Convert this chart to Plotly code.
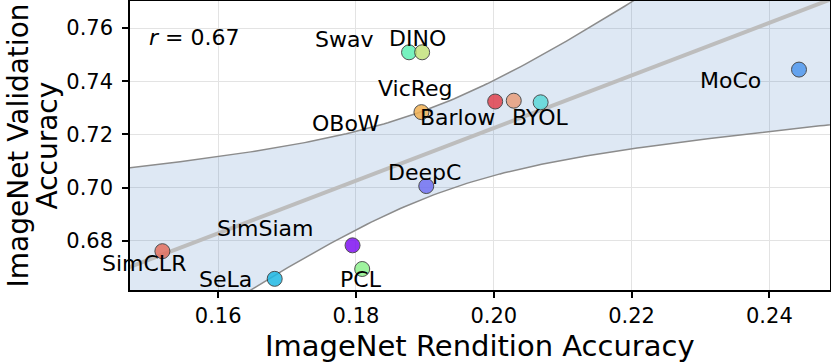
import numpy as np
import plotly.graph_objects as go

# ImageNet rendition accuracy vs validation accuracy per SSL method
methods = ["Swav", "DINO", "VicReg", "Barlow", "BYOL", "OBoW", "MoCo",
           "DeepC", "SimCLR", "SeLa", "SimSiam", "PCL"]
rendition = [0.1877, 0.1896, 0.1895, 0.2002, 0.2029, 0.2068, 0.2443,
             0.1902, 0.1519, 0.1682, 0.1795, 0.1809]
validation = [0.7509, 0.7509, 0.7284, 0.7324, 0.7327, 0.7321, 0.7444,
              0.7006, 0.6761, 0.6657, 0.6783, 0.6694]
colors = ["#5ff0b4", "#c4e27c", "#f0b052", "#e2434f", "#e89e7c", "#5cd8d8",
          "#4f97ee", "#7272f2", "#e37060", "#1fb9e4", "#7f12f2", "#8ef28e"]

# label placement (data coords), set by hand like adjustText would
label_x = {"Swav": 0.1783, "DINO": 0.1890, "VicReg": 0.1887, "OBoW": 0.1786,
           "Barlow": 0.1947, "BYOL": 0.2067, "MoCo": 0.2343, "DeepC": 0.1899,
           "SimSiam": 0.1668, "SimCLR": 0.1492, "SeLa": 0.1611, "PCL": 0.1807}
label_y = {"Swav": 0.7556, "DINO": 0.7560, "VicReg": 0.7372, "OBoW": 0.7241,
           "Barlow": 0.7264, "BYOL": 0.7264, "MoCo": 0.7402, "DeepC": 0.7057,
           "SimSiam": 0.6847, "SimCLR": 0.6716, "SeLa": 0.6656, "PCL": 0.6656}

FONT = "DejaVu Sans"
X_RANGE = [0.1472, 0.2488]
Y_RANGE = [0.6615, 0.7702]

# linear fit with 95% confidence band (same as seaborn regplot, analytic)
x = np.array(rendition)
y = np.array(validation)
n = len(x)
slope, intercept = np.polyfit(x, y, 1)
r = np.corrcoef(x, y)[0, 1]
resid = y - (slope * x + intercept)
s = np.sqrt(np.sum(resid ** 2) / (n - 2))
sxx = np.sum((x - x.mean()) ** 2)
t_crit = 2.228  # t(0.975, df=10)
xs = np.linspace(0.14, 0.26, 200)
fit = slope * xs + intercept
half = t_crit * s * np.sqrt(1 / n + (xs - x.mean()) ** 2 / sxx)

fig = go.Figure()
fig.add_trace(go.Scatter(x=xs, y=fit - half, mode="lines",
                         line=dict(color="#8c8c8c", width=1.5), hoverinfo="skip"))
fig.add_trace(go.Scatter(x=xs, y=fit + half, mode="lines", fill="tonexty",
                         fillcolor="rgba(60,120,190,0.17)",
                         line=dict(color="#8c8c8c", width=1.5), hoverinfo="skip"))
fig.add_trace(go.Scatter(x=xs, y=fit, mode="lines",
                         line=dict(color="#bdbdbd", width=4), hoverinfo="skip"))
fig.add_trace(go.Scatter(
    x=rendition, y=validation, mode="markers", text=methods,
    marker=dict(size=15, color=colors, opacity=0.85,
                line=dict(color="#333333", width=1)),
    cliponaxis=False,
))

for m in methods:
    fig.add_annotation(x=label_x[m], y=label_y[m], text=m, showarrow=False,
                       xanchor="center", yanchor="middle",
                       font=dict(size=22, color="black", family=FONT))

fig.add_annotation(x=0.1496, y=0.7564, xanchor="left", yanchor="middle",
                   text=f"<i>r</i> = {r:.2f}", showarrow=False,
                   font=dict(size=22, color="black", family=FONT))

# axis titles
fig.add_annotation(xref="paper", yref="paper", x=0.5, y=0, yshift=-56,
                   xanchor="center", yanchor="middle",
                   text="ImageNet Rendition Accuracy", showarrow=False,
                   font=dict(size=29, color="black", family=FONT))
fig.add_annotation(xref="paper", yref="paper", x=0, y=0.5, xshift=-112,
                   xanchor="center", yanchor="middle",
                   textangle=-90, text="ImageNet Validation", showarrow=False,
                   font=dict(size=28, color="black", family=FONT))
fig.add_annotation(xref="paper", yref="paper", x=0, y=0.5, xshift=-83,
                   xanchor="center", yanchor="middle",
                   textangle=-90, text="Accuracy", showarrow=False,
                   font=dict(size=28, color="black", family=FONT))

axis_common = dict(showgrid=True, gridcolor="#e3e3e3", gridwidth=1, zeroline=False,
                   showline=True, linecolor="black", linewidth=1.5, mirror=True,
                   ticks="outside", ticklen=6, tickwidth=1.5, tickcolor="black",
                   automargin=False,
                   tickfont=dict(size=21, color="black", family=FONT))
fig.update_xaxes(range=X_RANGE, tickvals=[0.16, 0.18, 0.20, 0.22, 0.24],
                 tickformat=".2f", **axis_common)
fig.update_yaxes(range=Y_RANGE, tickvals=[0.68, 0.70, 0.72, 0.74, 0.76],
                 tickformat=".2f", ticklabelstandoff=5, **axis_common)

fig.update_layout(
    width=831, height=362,
    margin=dict(l=130, r=1, t=1, b=72, autoexpand=False),
    paper_bgcolor="white", plot_bgcolor="white",
    showlegend=False,
    font=dict(family=FONT, color="black"),
)

# drop the browser's default body margin so the figure sits at the page corner
fig.write_html("out.html", config={"displayModeBar": False},
               post_script="document.body.style.margin='0';")
